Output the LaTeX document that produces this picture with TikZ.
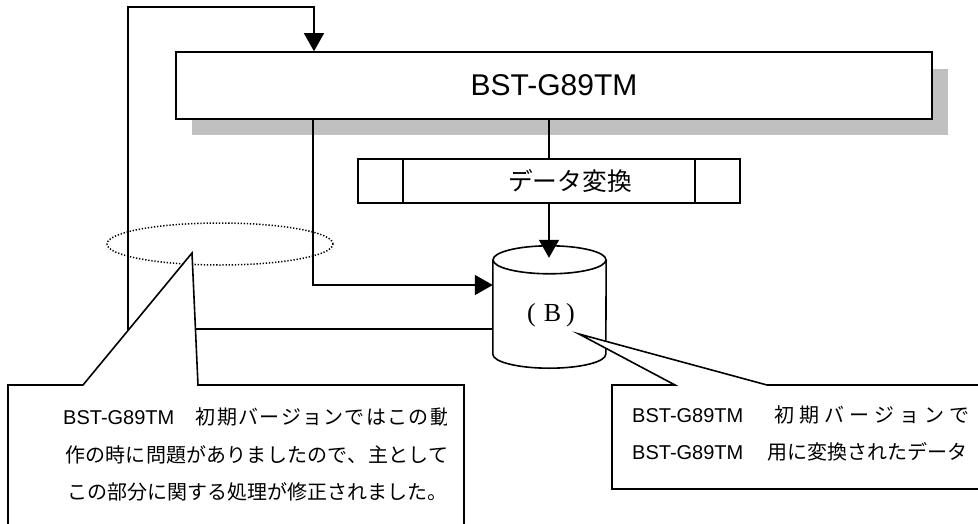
\documentclass[tikz,border=0pt]{standalone}
\usepackage{fontspec}
\setmainfont{Liberation Sans}
\newfontfamily\jp{Noto Sans CJK JP}
\newfontfamily\latinserif{Liberation Serif}
\usetikzlibrary{arrows.meta,shapes.geometric,calc}
\definecolor{shadowgray}{HTML}{C0C0C0}
% set a run of Japanese characters with extra tracking after each one
\makeatletter
\newcommand\trackjp[2]{{\jp\@tfor\tj@c:=#2\do{\tj@c\hspace{#1}}}}
\makeatother
\begin{document}
\begin{tikzpicture}[x=1pt,y=-1pt,
  line/.style={line width=1.6pt},
  arr/.style={line, -{Triangle[length=18pt,width=20pt]}},
  box/.style={draw, line width=1.6pt, fill=white, inner sep=0pt},
  dotline/.style={line width=1.5pt, dash pattern=on 1.3pt off 1.8pt},
  txt/.style={anchor=base west, inner sep=0pt, font=\fontsize{20}{24}\selectfont}]
\useasboundingbox (0,0) rectangle (978,523);
\clip (0,0) rectangle (978,523);

% main program box with its shadow
\fill[shadowgray] (192,69) rectangle (948,135);
\node[box, minimum width=756pt, minimum height=67pt] (main) at (554,85.5)
  {\fontsize{30}{36}\selectfont BST-G89TM\hspace{46pt}};

% predefined process: data conversion
\node[box, minimum width=382pt, minimum height=44pt] (conv) at (549,181)
  {\hspace{42pt}{\jp\fontsize{24.7}{30}\selectfont データ変換}};
\draw[line] ([xshift=46pt]conv.north west) -- ([xshift=46pt]conv.south west);
\draw[line] ([xshift=-46pt]conv.north east) -- ([xshift=-46pt]conv.south east);

% data store (B)
\node[inner sep=0pt, minimum width=113pt, minimum height=122pt] (db) at (549.5,307) {};
\draw[line, fill=white] ([yshift=-14pt]db.north west) -- ([yshift=14pt]db.south west)
  arc[start angle=180, end angle=360, x radius=56.5pt, y radius=14pt]
  -- ([yshift=-14pt]db.north east);
\draw[line] ([yshift=-14pt]db.north) ellipse [x radius=56.5pt, y radius=14pt];
\node[font=\latinserif\fontsize{26}{30}\selectfont, inner sep=0pt] (dblabel) at (551,315)
  {(\hspace{8pt}B\hspace{5pt})};

% connectors
\coordinate (fbcorner) at (128,329);
\coordinate (fbtop) at (128,7);
\coordinate (fbdrop) at (314,7);
\coordinate (tapL) at (313,285);
\coordinate (dbtop) at ($(db.north)+(0,12)$);
\draw[arr] (db.west |- fbcorner) -- (fbcorner) -- (fbtop) -- (fbdrop) -- (fbdrop |- main.north);
\draw[arr] (main.south -| tapL) -- (tapL) -- (db.west |- tapL);
\draw[line] (main.south -| conv.north) -- (conv.north);
\draw[arr] (conv.south) -- (conv.south |- dbtop);

% highlighted region
\node[draw, ellipse, dotline, minimum width=226pt, minimum height=42pt, inner sep=0pt]
  (focus) at (220,244) {};

% callout on the highlighted region
\draw[line, fill=white] (8,540) -- (8,385) -- (83,385) -- (192,253) -- (198,385)
  -- (464,385) -- (464,540);
\begin{scope}
  \clip (8,385) rectangle (446,523);
  \node[txt] (noteA1) at (63,424)
    {BST-G89TM\hspace{21.5pt}\trackjp{1.3pt}{初期バージョンではこの動}};
  \node[txt] (noteA2) at (65,462) {\trackjp{0.2pt}{作の時に問題がありましたので、主として}};
  \node[txt] (noteA3) at (67,499) {{\jp この部分に関する処理が修正されました。}};
\end{scope}

% callout on the data store
\draw[line, fill=white] (990,489) -- (612,489) -- (612,385) -- (675,385) -- (579,334)
  -- (767,385) -- (990,385);
\node[txt] (noteB1) at (632,422)
  {BST-G89TM\hspace{31.5pt}\trackjp{5pt}{初期バージョンで}};
\node[txt] (noteB2) at (632,459)
  {BST-G89TM\hspace{24.5pt}{\jp 用に変換されたデータ}};
\end{tikzpicture}
\end{document}
